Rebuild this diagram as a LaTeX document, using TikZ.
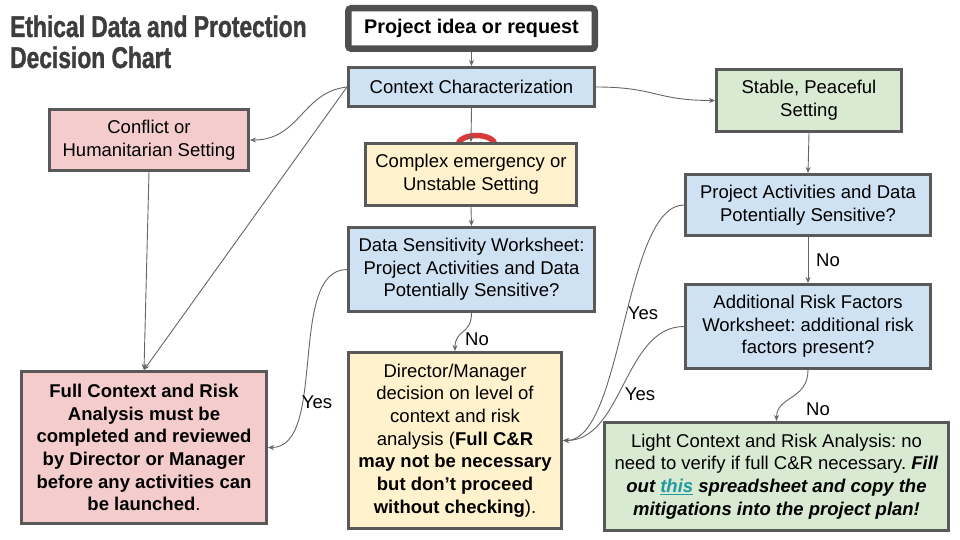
\documentclass[tikz,border=0pt]{standalone}
\usepackage{fontspec}
\setmainfont{Liberation Sans}
\newfontfamily\titlefont[FakeStretch=0.76,FakeBold=1.2]{Liberation Sans}
\usetikzlibrary{arrows.meta}
\frenchspacing
\definecolor{cblue}{HTML}{CFE2F3}
\definecolor{cpink}{HTML}{F4CCCC}
\definecolor{cyellow}{HTML}{FFF2CC}
\definecolor{cgreen}{HTML}{D9EAD3}
\definecolor{bordergray}{HTML}{595959}
\definecolor{projgray}{HTML}{4F4F4F}
\definecolor{linegray}{HTML}{666666}
\definecolor{titlegray}{HTML}{3D3D3D}
\definecolor{linkteal}{HTML}{1F9AA0}
\definecolor{artred}{HTML}{D83A3A}
\tikzset{
  box/.style={draw=bordergray, line width=3pt, rectangle, align=center, inner sep=0pt,
    font=\frenchspacing\fontsize{18.5}{22.7}\selectfont, text=black},
  conn/.style={draw=linegray, line width=0.9pt, -{Stealth[length=6pt,width=5pt]}},
  lbl/.style={font=\fontsize{18.5}{22.7}\selectfont, text=black, inner sep=0pt},
  ttl/.style={font=\titlefont\bfseries\fontsize{30}{31}\selectfont, text=titlegray, inner sep=0pt, anchor=base west}
}
\begin{document}
\begin{tikzpicture}[x=1pt,y=-1pt]
\fill[white] (0,0) rectangle (960,540);
\useasboundingbox (0,0) rectangle (960,540);

% title
\node[ttl] (title1) at (10,37) {Ethical Data and Protection};
\node[ttl] (title2) at (10,68) {Decision Chart};

% red artifact behind the complex box
\draw[artred, line width=5.5pt] (458,145) arc[start angle=180, end angle=360, x radius=18.5, y radius=9.5];

% boxes
\node[box, draw=projgray, line width=6.5pt, rounded corners=3pt, fill=white, minimum width=246.5, minimum height=40.5,
  font=\bfseries\fontsize{19.8}{23}\selectfont] (proj) at (471.5,28.5) {Project idea or request};
\node[box, fill=cblue, minimum width=246, minimum height=39] (ctx) at (471.5,87) {Context Characterization};
\node[box, fill=cpink, minimum width=199, minimum height=61] (conf) at (149,140) {Conflict or\\Humanitarian Setting};
\node[box, fill=cyellow, minimum width=211, minimum height=62] (cplx) at (471,174.5) {Complex emergency or\\Unstable Setting};
\node[box, fill=cgreen, minimum width=185, minimum height=62] (stab) at (809,100.5) {Stable, Peaceful\\Setting};
\node[box, fill=cblue, minimum width=245, minimum height=61] (pa) at (808,205) {Project Activities and Data\\Potentially Sensitive?};
\node[box, fill=cblue, minimum width=246, minimum height=84] (ds) at (471.5,269.5) {Data Sensitivity Worksheet:\\Project Activities and Data\\Potentially Sensitive?};
\node[box, fill=cblue, minimum width=245, minimum height=84] (ar) at (808,326.5) {Additional Risk Factors\\Worksheet: additional risk\\factors present?};
\node[box, fill=cpink, minimum width=245, minimum height=152] (full) at (144,447.5) {\textbf{Full Context and Risk}\\\textbf{Analysis must be}\\\textbf{completed and reviewed}\\\textbf{by Director or Manager}\\\textbf{before any activities can}\\\textbf{be launched}.};
\node[box, fill=cyellow, minimum width=213, minimum height=176] (dir) at (455,440.5) {Director/Manager\\decision on level of\\context and risk\\analysis (\textbf{Full C\&R}\\\textbf{may not be necessary}\\\textbf{but don’t proceed}\\\textbf{without checking}).};
\node[box, fill=cgreen, minimum width=344, minimum height=108] (light) at (776.5,476.5) {Light Context and Risk Analysis: no\\need to verify if full C\&R necessary. \textbf{\textit{Fill}}\\\textbf{\textit{out \textcolor{linkteal}{\underline{this}} spreadsheet and copy the}}\\\textbf{\textit{mitigations into the project plan!}}};

% connectors
\draw[conn] (proj.south) -- (ctx.north);
\draw[conn] (ctx.south) -- (cplx.north);
\draw[conn] (cplx.south) -- (ds.north);
\draw[conn] (stab.south) -- (pa.north);
\draw[conn] (pa.south) -- (ar.north);
\draw[conn] (ctx.west) .. controls +(-45,5) and +(50,0) .. (conf.east);
\draw[conn] (ctx.west) -- (full.north);
\draw[conn] (conf.south) -- (full.north);
\draw[conn] (ctx.east) .. controls +(60,0) and +(-60,0) .. (stab.west);
\draw[conn] (ds.south) .. controls +(0,22) and +(0,-22) .. (dir.north);
\draw[conn] (ds.west) .. controls +(-60,0) and +(60,0) .. (full.east);
\draw[conn] (pa.west) .. controls +(-60,0) and +(60,0) .. (dir.east);
\draw[conn] (ar.west) .. controls +(-60,0) and +(60,0) .. (dir.east);
\draw[conn] (ar.south) .. controls +(0,30) and +(0,-25) .. (light.north);

% labels
\node[lbl] (no1) at (477,339) {No};
\node[lbl] (yes1) at (317,402) {Yes};
\node[lbl] (yes2) at (643,313) {Yes};
\node[lbl] (no2) at (828,260) {No};
\node[lbl] (yes3) at (640,394) {Yes};
\node[lbl] (no3) at (818,409) {No};
\end{tikzpicture}
\end{document}
